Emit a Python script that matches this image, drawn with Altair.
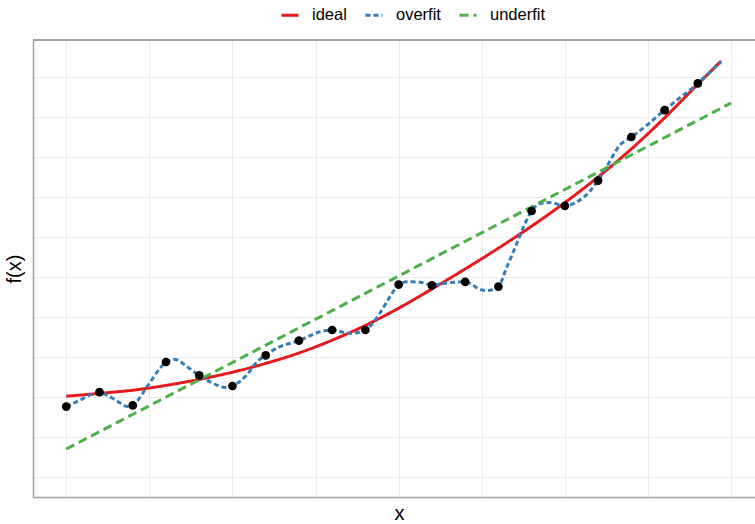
import altair as alt
import pandas as pd

# Observed sample points
pt_x = list(range(20))
pt_y = [1.76, 2.12, 1.79, 2.875, 2.54, 2.275, 3.04, 3.41, 3.675, 3.675,
        4.81, 4.79, 4.88, 4.76, 6.65, 6.78, 7.41, 8.5, 9.17, 9.84]

# "ideal" model curve
ideal_x = [0, 1, 2, 3, 4, 5, 6, 7, 8, 9, 10, 11, 12, 13, 14, 15, 16, 17, 18, 19, 19.7]
ideal_y = [2.02, 2.09, 2.17, 2.29, 2.44, 2.62, 2.84, 3.10, 3.42, 3.79, 4.22,
           4.70, 5.20, 5.72, 6.27, 6.86, 7.50, 8.20, 8.98, 9.82, 10.40]

# "overfit" model curve (wiggles through every point)
over_x = [0, 0.42, 1.0, 1.38, 1.62, 1.85, 2.0, 2.43, 2.83, 3.0, 3.28, 3.63, 4.0,
          4.33, 4.78, 5.0, 5.43, 5.74, 6.0, 6.23, 7.0, 7.64, 8.0, 8.54, 9.0,
          9.44, 9.74, 10.0, 10.25, 10.65, 11.0, 11.55, 12.0, 12.5, 12.68, 13.0,
          13.26, 13.56, 13.81, 14.0, 14.26, 14.56, 15.0, 15.36, 15.76, 16.0,
          16.26, 16.66, 17.0, 17.46, 17.86, 18.0, 18.47, 18.77, 19.0, 19.37, 19.7]
over_y = [1.75, 1.925, 2.11, 1.975, 1.85, 1.76, 1.79, 2.26, 2.725, 2.875, 2.94,
          2.76, 2.54, 2.38, 2.24, 2.275, 2.55, 2.88, 3.04, 3.175, 3.41, 3.63,
          3.675, 3.59, 3.675, 4.1, 4.51, 4.81, 4.88, 4.87, 4.8, 4.86, 4.88,
          4.675, 4.66, 4.76, 5.26, 5.85, 6.35, 6.65, 6.84, 6.86, 6.78, 6.875,
          7.15, 7.41, 7.76, 8.3, 8.5, 8.79, 9.075, 9.17, 9.49, 9.675, 9.84,
          10.13, 10.38]

# "underfit" model: straight line
under_x = [0, 20]
under_y = [0.7, 9.35]

model_names = ["ideal", "overfit", "underfit"]
model_colors = ["#E41A1C", "#377EB8", "#4DAF4A"]
model_dashes = [[1, 0], [5, 3], [9, 5]]

lines = pd.concat([
    pd.DataFrame({"x": ideal_x, "y": ideal_y, "model": "ideal"}),
    pd.DataFrame({"x": over_x, "y": over_y, "model": "overfit"}),
    pd.DataFrame({"x": under_x, "y": under_y, "model": "underfit"}),
], ignore_index=True)
points = pd.DataFrame({"x": pt_x, "y": pt_y})

W, H = 722, 457
FONT = "Liberation Sans"
BORDER = "#a0a0a0"
GRID = "#ebebeb"

x_scale = alt.Scale(domain=[-1, 20.72], nice=False, zero=False)
y_scale = alt.Scale(domain=[-0.5, 10.925], nice=False, zero=False)

x_axis = alt.Axis(values=[i * 2.5 for i in range(9)], labels=False, ticks=False,
                  grid=True, gridColor=GRID, gridWidth=1,
                  domainColor=BORDER, domainWidth=1.5,
                  title="x", titleFont=FONT, titleFontSize=20,
                  titleFontWeight="normal", titleColor="#000000", titlePadding=6,
                  titleX=366)
y_axis = alt.Axis(values=list(range(11)), labels=False, ticks=False,
                  grid=True, gridColor=GRID, gridWidth=1,
                  domainColor=BORDER, domainWidth=1.5,
                  title="f(x)", titleFont=FONT, titleFontSize=20,
                  titleFontWeight="normal", titleColor="#000000", titlePadding=9)

legend = alt.Legend(title=None, orient="none", direction="horizontal",
                    legendX=247, legendY=-35, symbolType="stroke",
                    symbolSize=289, symbolStrokeWidth=3,
                    labelFont=FONT, labelFontSize=16.5, labelColor="#000000",
                    labelOffset=12, columnPadding=12)

curves = alt.Chart(lines).mark_line(strokeWidth=3, interpolate="monotone").encode(
    x=alt.X("x:Q", scale=x_scale, axis=x_axis),
    y=alt.Y("y:Q", scale=y_scale, axis=y_axis),
    color=alt.Color("model:N", scale=alt.Scale(domain=model_names, range=model_colors),
                    legend=legend),
    strokeDash=alt.StrokeDash("model:N",
                              scale=alt.Scale(domain=model_names, range=model_dashes),
                              legend=legend),
)

dots = alt.Chart(points).mark_circle(size=76, color="#000000", opacity=1).encode(
    x=alt.X("x:Q", scale=x_scale),
    y=alt.Y("y:Q", scale=y_scale),
)

top_border = alt.Chart(points).mark_rule(color=BORDER, strokeWidth=1).encode(
    x=alt.value(0), x2=alt.value(W), y=alt.value(0)
)

chart = alt.layer(curves, dots, top_border).properties(
    width=W, height=H,
    autosize=alt.AutoSizeParams(type="none"),
    padding={"left": 33, "top": 40, "right": 0, "bottom": 27},
).configure_view(stroke=None).configure(background="white")

chart.save("out.html", embed_options={"renderer": "svg", "actions": False})
